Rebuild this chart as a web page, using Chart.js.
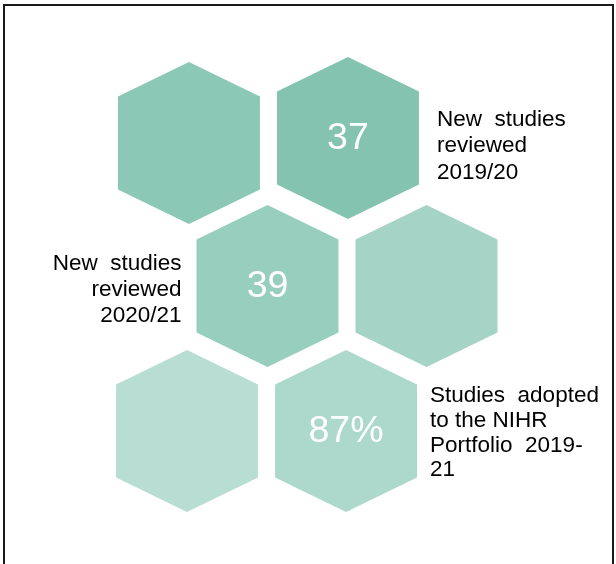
<!DOCTYPE html>
<html>
<head>
<meta charset="utf-8">
<title>Studies reviewed and adopted</title>
<script src="https://cdn.jsdelivr.net/npm/chart.js@4.4.1/dist/chart.umd.min.js"></script>
<style>
  html, body { margin: 0; padding: 0; background: #ffffff; }
  #wrap { width: 616px; height: 564px; overflow: hidden; }
  canvas { display: block; }
</style>
</head>
<body>
<div id="wrap"><canvas id="hexChart" width="616" height="564"></canvas></div>
<script>
// Headline figures
const categories = [
  'New studies reviewed 2019/20',
  'New studies reviewed 2020/21',
  'Studies adopted to the NIHR Portfolio 2019-21'
];
const values = [37, 39, 87];
const valueUnits = ['', '', '%'];

// Caption text, broken into lines
const captionLines = [
  ['New  studies', 'reviewed', '2019/20'],
  ['New  studies', 'reviewed', '2020/21'],
  ['Studies  adopted', 'to the NIHR', 'Portfolio  2019-', '21']
];

// Honeycomb cells: column / row in grid units, fill, and which figure sits in it
const cellCols = [0.006, 1.006, 0.5, 1.5, -0.006, 0.994];
const cellRows = [0.014, -0.021, 1, 1, 2, 2];
const cellColors = ['#8CC8B6', '#84C3AF', '#97CEBE', '#A5D3C6', '#B8DED4', '#ADD8CC'];
const cellStat = [null, 0, 1, null, null, 2];

// Caption placement per figure: side, gap from the cell edge (px), first baseline offset, line height
const captionSide = ['right', 'left', 'right'];
const captionGap = [18, 15, 13];
const captionDy = [-12, -16, -29];
const captionLead = [26.3, 25.8, 24.8];

// Hexagon shape in grid units
const HEX_HALF_W = 0.4465;
const HEX_TIP = 0.5586;
const HEX_SHOULDER = 0.3207;

const FONT = '"Liberation Sans", Arial, Helvetica, sans-serif';

const honeycomb = {
  id: 'honeycomb',
  beforeDraw(chart) {
    const ctx = chart.ctx;
    ctx.save();
    ctx.fillStyle = '#ffffff';
    ctx.fillRect(0, 0, chart.width, chart.height);
    ctx.restore();
  },
  afterDatasetsDraw(chart) {
    const ctx = chart.ctx;
    const xs = chart.scales.x;
    const ys = chart.scales.y;
    const hw = Math.abs(xs.getPixelForValue(HEX_HALF_W) - xs.getPixelForValue(0));
    const tip = Math.abs(ys.getPixelForValue(HEX_TIP) - ys.getPixelForValue(0));
    const sh = Math.abs(ys.getPixelForValue(HEX_SHOULDER) - ys.getPixelForValue(0));
    const meta = chart.getDatasetMeta(0);
    ctx.save();
    meta.data.forEach((pt, i) => {
      const cx = pt.x, cy = pt.y;
      ctx.beginPath();
      ctx.moveTo(cx, cy - tip);
      ctx.lineTo(cx + hw, cy - sh);
      ctx.lineTo(cx + hw, cy + sh);
      ctx.lineTo(cx, cy + tip);
      ctx.lineTo(cx - hw, cy + sh);
      ctx.lineTo(cx - hw, cy - sh);
      ctx.closePath();
      ctx.fillStyle = cellColors[i];
      ctx.fill();

      const s = cellStat[i];
      if (s === null) return;
      // figure inside the cell
      ctx.fillStyle = '#ffffff';
      ctx.font = '37.5px ' + FONT;
      ctx.textAlign = 'center';
      ctx.textBaseline = 'middle';
      ctx.fillText(String(values[s]) + valueUnits[s], cx, cy + 1);

      // caption beside the cell
      ctx.fillStyle = '#000000';
      ctx.font = '22.5px ' + FONT;
      ctx.textBaseline = 'alphabetic';
      const right = captionSide[s] === 'right';
      ctx.textAlign = right ? 'left' : 'right';
      const tx = right ? cx + hw + captionGap[s] : cx - hw - captionGap[s];
      captionLines[s].forEach((line, k) => {
        ctx.fillText(line, tx, cy + captionDy[s] + k * captionLead[s]);
      });
    });
    ctx.restore();
  },
  afterDraw(chart) {
    // outer frame
    const ctx = chart.ctx;
    ctx.save();
    ctx.strokeStyle = '#1a1a1a';
    ctx.lineWidth = 2;
    ctx.strokeRect(4, 5, 609, 700);
    ctx.restore();
  }
};

new Chart(document.getElementById('hexChart'), {
  type: 'scatter',
  data: {
    labels: cellCols.map((_, i) => cellStat[i] === null ? '' : categories[cellStat[i]]),
    datasets: [{
      label: 'Studies',
      data: cellCols.map((c, i) => ({ x: c, y: cellRows[i] })),
      pointRadius: 0,
      pointHoverRadius: 0,
      backgroundColor: cellColors
    }]
  },
  options: {
    responsive: false,
    animation: false,
    events: [],
    layout: { padding: 0 },
    plugins: {
      legend: { display: false },
      tooltip: { enabled: false },
      title: { display: false }
    },
    scales: {
      x: { type: 'linear', display: false, min: -188 / 159, max: (616 - 188) / 159 },
      y: { type: 'linear', display: false, reverse: true, min: -141 / 145, max: (564 - 141) / 145 }
    }
  },
  plugins: [honeycomb]
});
</script>
</body>
</html>
